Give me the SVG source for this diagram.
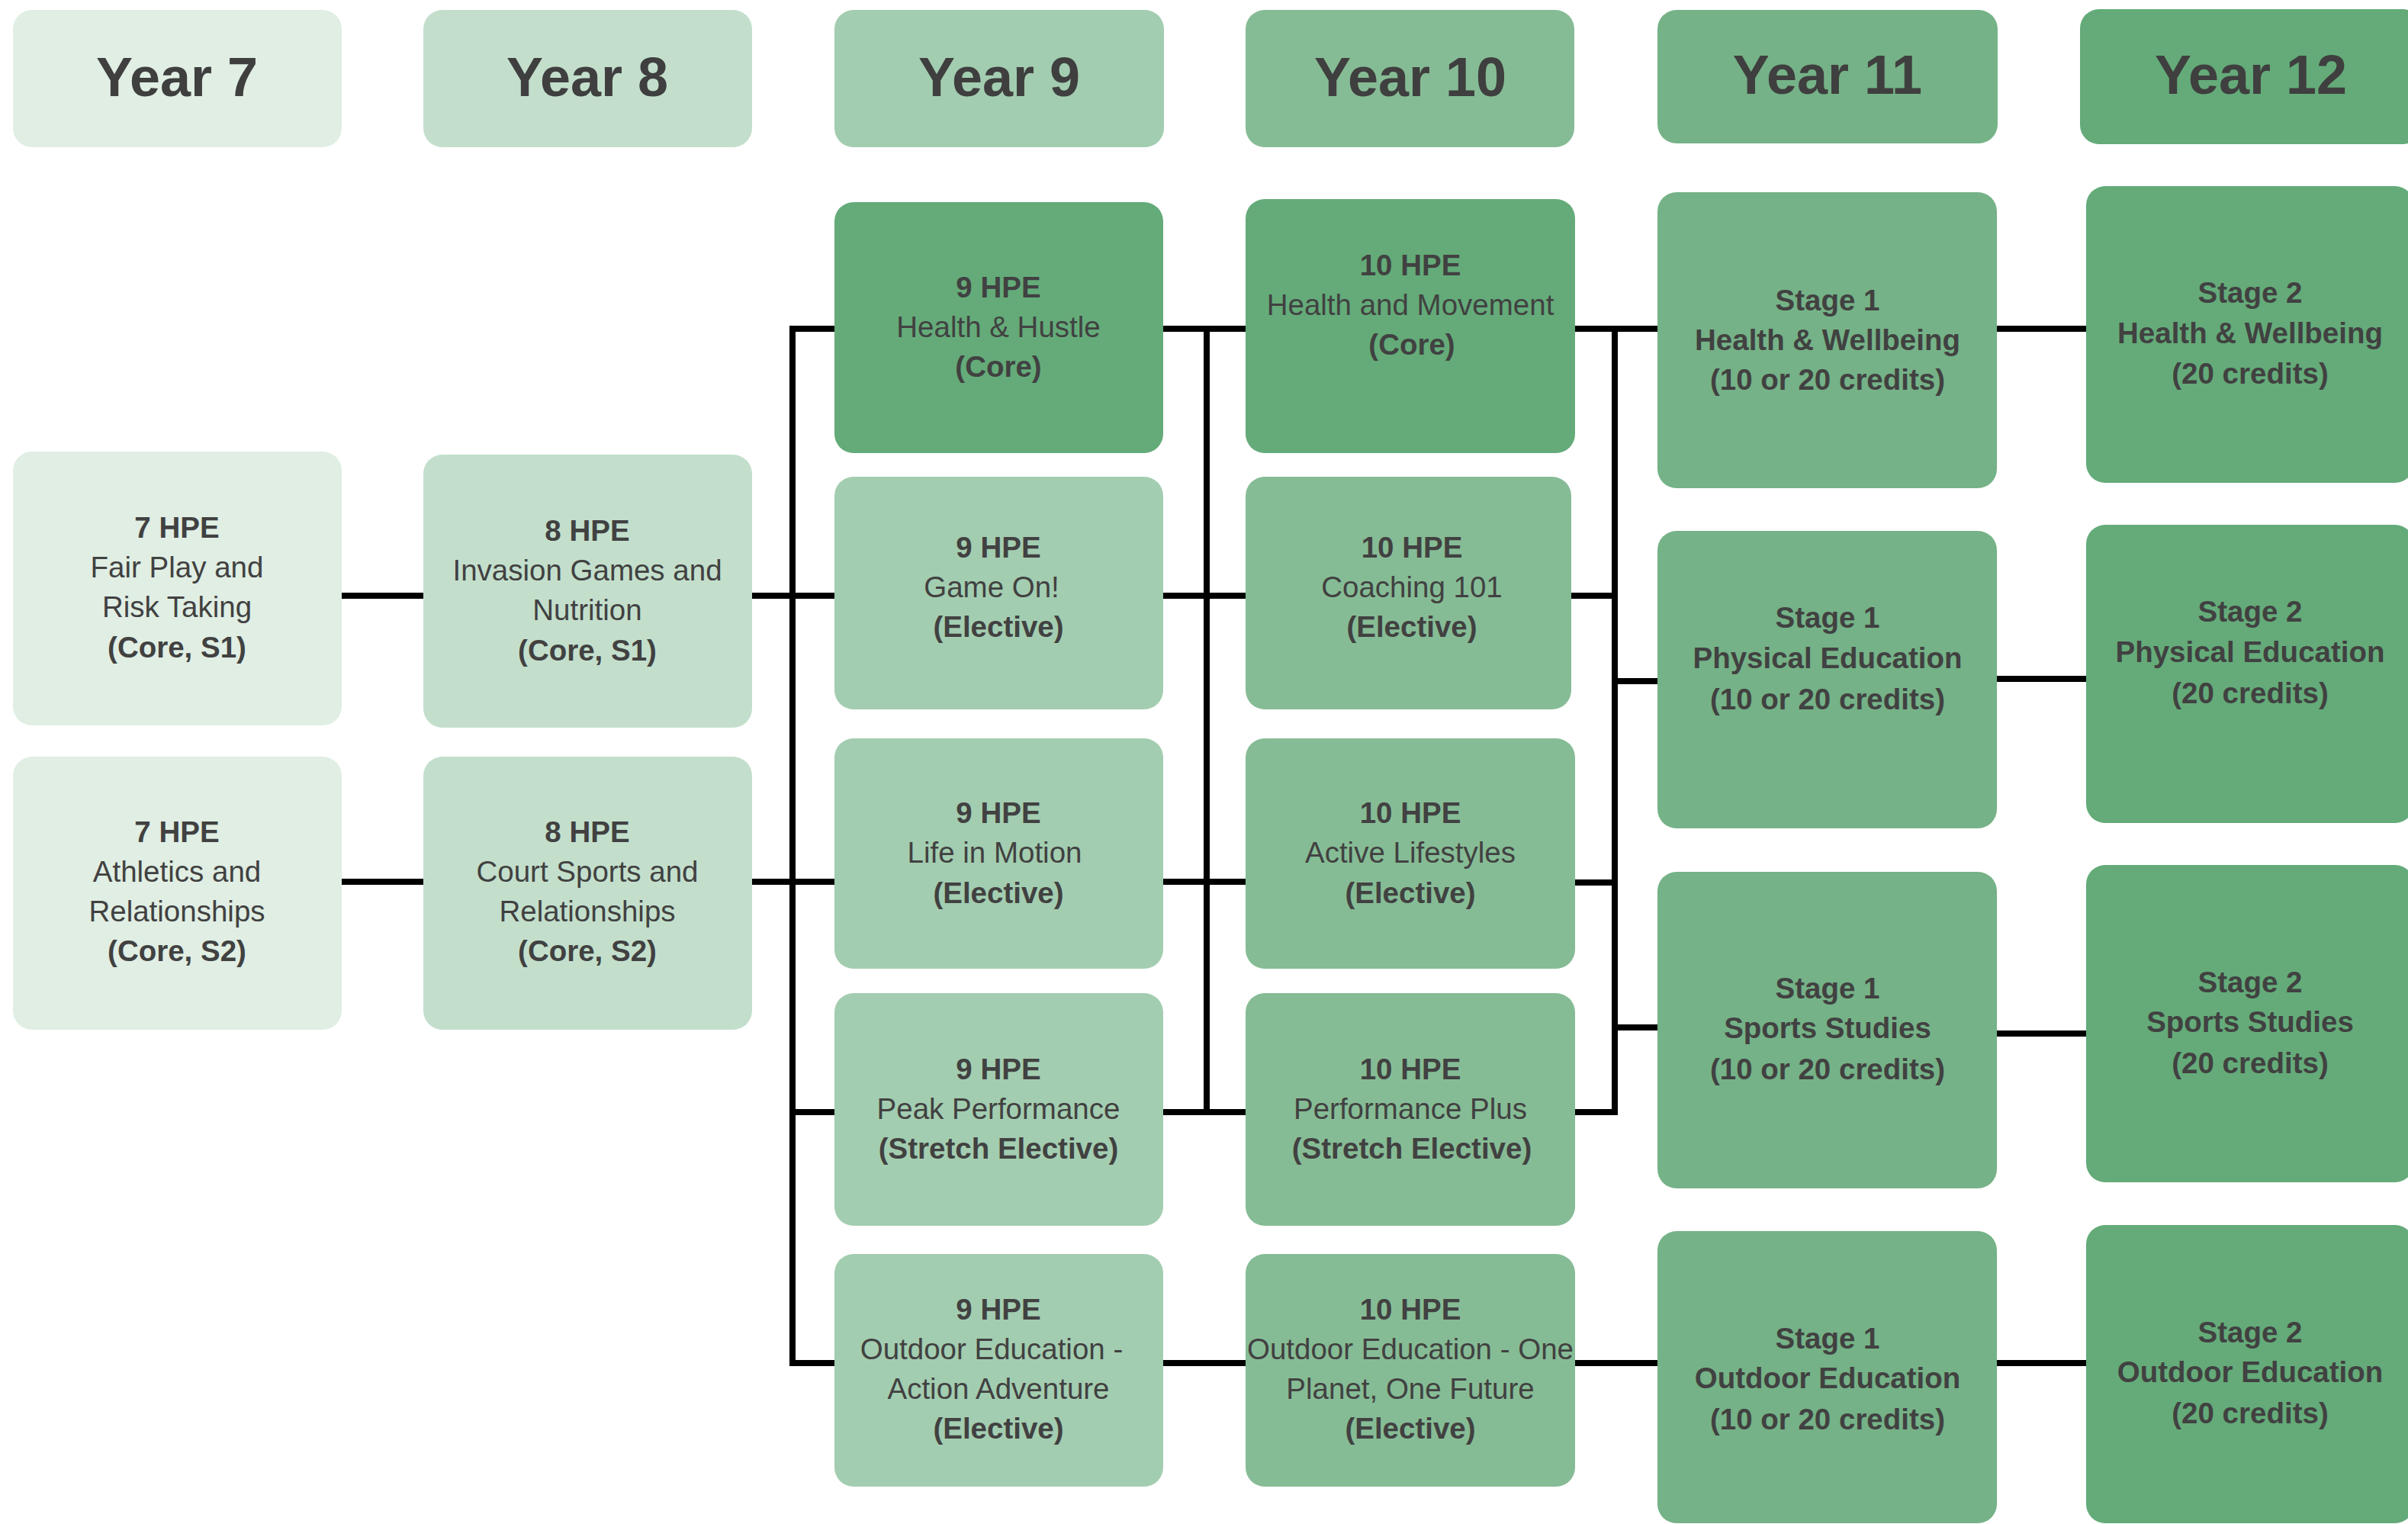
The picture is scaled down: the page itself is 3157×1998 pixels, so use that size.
<svg xmlns="http://www.w3.org/2000/svg" width="3157" height="1998" viewBox="0 0 3157 1998">
<style>
  .hdr { font-family: "Liberation Sans", Arial, sans-serif; font-size: 72px; font-weight: bold; fill: #3f3f3f; text-anchor: middle; }
  .t { font-family: "Liberation Sans", Arial, sans-serif; font-size: 38.5px; fill: #414141; text-anchor: middle; }
  .b { font-weight: bold; }
  .c7 { fill: #e0eee3; }
  .c8 { fill: #c3dfcc; }
  .c9 { fill: #a3cdb0; }
  .c10 { fill: #86bc95; }
  .c11 { fill: #75b287; }
  .c12 { fill: #64ab79; }
  .conn path { fill: none; stroke: #000; stroke-width: 8; stroke-linejoin: miter; stroke-linecap: butt; }
</style>
<rect width="3157" height="1998" fill="#ffffff"/>

<g id="connectors" class="conn">
  <path d="M447 781 H555"/>
  <path d="M447 1156 H555"/>
  <path d="M985 781 H1094"/>
  <path d="M985 1156 H1094"/>
  <path d="M1094 431 H1039 V1787 H1094"/>
  <path d="M1039 1458 H1094"/>
  <path d="M1525 431 H1633"/>
  <path d="M1525 781 H1633"/>
  <path d="M1525 1156 H1633"/>
  <path d="M1525 1458 H1633"/>
  <path d="M1525 1787 H1633"/>
  <path d="M1582 431 V1462"/>
  <path d="M2065 431 H2173"/>
  <path d="M2117 427 V1458 H2065"/>
  <path d="M2060 781 H2117"/>
  <path d="M2117 893 H2173"/>
  <path d="M2065 1157 H2117"/>
  <path d="M2117 1347 H2173"/>
  <path d="M2065 1787 H2173"/>
  <path d="M2618 431 H2735"/>
  <path d="M2618 890 H2735"/>
  <path d="M2618 1355 H2735"/>
  <path d="M2618 1787 H2735"/>
</g>

<g id="year7">
  <rect class="c7" x="17" y="13" width="431" height="180" rx="25"/>
  <text class="hdr" x="232" y="126">Year 7</text>
</g>
<g id="year8">
  <rect class="c8" x="555" y="13" width="431" height="180" rx="25"/>
  <text class="hdr" x="770" y="126">Year 8</text>
</g>
<g id="year9">
  <rect class="c9" x="1094" y="13" width="432" height="180" rx="25"/>
  <text class="hdr" x="1310" y="126">Year 9</text>
</g>
<g id="year10">
  <rect class="c10" x="1633" y="13" width="431" height="180" rx="25"/>
  <text class="hdr" x="1849" y="126">Year 10</text>
</g>
<g id="year11">
  <rect class="c11" x="2173" y="13" width="446" height="175" rx="25"/>
  <text class="hdr" x="2396" y="123">Year 11</text>
</g>
<g id="year12">
  <rect class="c12" x="2727" y="12" width="448" height="177" rx="25"/>
  <text class="hdr" x="2951" y="123">Year 12</text>
</g>

<g id="n7a">
  <rect class="c7" x="17" y="592" width="431" height="359" rx="25"/>
  <text class="t b" x="232" y="705">7 HPE</text>
  <text class="t" x="232" y="757">Fair Play and</text>
  <text class="t" x="232" y="809">Risk Taking</text>
  <text class="t b" x="232" y="862">(Core, S1)</text>
</g>
<g id="n7b">
  <rect class="c7" x="17" y="992" width="431" height="358" rx="25"/>
  <text class="t b" x="232" y="1104">7 HPE</text>
  <text class="t" x="232" y="1156">Athletics and</text>
  <text class="t" x="232" y="1208">Relationships</text>
  <text class="t b" x="232" y="1260">(Core, S2)</text>
</g>
<g id="n8a">
  <rect class="c8" x="555" y="596" width="431" height="358" rx="25"/>
  <text class="t b" x="770" y="709">8 HPE</text>
  <text class="t" x="770" y="761">Invasion Games and</text>
  <text class="t" x="770" y="813">Nutrition</text>
  <text class="t b" x="770" y="866">(Core, S1)</text>
</g>
<g id="n8b">
  <rect class="c8" x="555" y="992" width="431" height="358" rx="25"/>
  <text class="t b" x="770" y="1104">8 HPE</text>
  <text class="t" x="770" y="1156">Court Sports and</text>
  <text class="t" x="770" y="1208">Relationships</text>
  <text class="t b" x="770" y="1260">(Core, S2)</text>
</g>

<g id="n9a">
  <rect class="c12" x="1094" y="265" width="431" height="329" rx="25"/>
  <text class="t b" x="1309" y="390">9 HPE</text>
  <text class="t" x="1309" y="442">Health &amp; Hustle</text>
  <text class="t b" x="1309" y="494">(Core)</text>
</g>
<g id="n9b">
  <rect class="c9" x="1094" y="625" width="431" height="305" rx="25"/>
  <text class="t b" x="1309" y="731">9 HPE</text>
  <text class="t" x="1300" y="783">Game On!</text>
  <text class="t b" x="1309" y="835">(Elective)</text>
</g>
<g id="n9c">
  <rect class="c9" x="1094" y="968" width="431" height="302" rx="25"/>
  <text class="t b" x="1309" y="1079">9 HPE</text>
  <text class="t" x="1304" y="1131">Life in Motion</text>
  <text class="t b" x="1309" y="1184">(Elective)</text>
</g>
<g id="n9d">
  <rect class="c9" x="1094" y="1302" width="431" height="305" rx="25"/>
  <text class="t b" x="1309" y="1415">9 HPE</text>
  <text class="t" x="1309" y="1467">Peak Performance</text>
  <text class="t b" x="1309" y="1519">(Stretch Elective)</text>
</g>
<g id="n9e">
  <rect class="c9" x="1094" y="1644" width="431" height="305" rx="25"/>
  <text class="t b" x="1309" y="1730">9 HPE</text>
  <text class="t" x="1300" y="1782">Outdoor Education -</text>
  <text class="t" x="1309" y="1834">Action Adventure</text>
  <text class="t b" x="1309" y="1886">(Elective)</text>
</g>

<g id="n10a">
  <rect class="c12" x="1633" y="261" width="432" height="333" rx="25"/>
  <text class="t b" x="1849" y="361">10 HPE</text>
  <text class="t" x="1849" y="413">Health and Movement</text>
  <text class="t b" x="1851" y="465">(Core)</text>
</g>
<g id="n10b">
  <rect class="c10" x="1633" y="625" width="427" height="305" rx="25"/>
  <text class="t b" x="1851" y="731">10 HPE</text>
  <text class="t" x="1851" y="783">Coaching 101</text>
  <text class="t b" x="1851" y="835">(Elective)</text>
</g>
<g id="n10c">
  <rect class="c10" x="1633" y="968" width="432" height="302" rx="25"/>
  <text class="t b" x="1849" y="1079">10 HPE</text>
  <text class="t" x="1849" y="1131">Active Lifestyles</text>
  <text class="t b" x="1849" y="1184">(Elective)</text>
</g>
<g id="n10d">
  <rect class="c10" x="1633" y="1302" width="432" height="305" rx="25"/>
  <text class="t b" x="1849" y="1415">10 HPE</text>
  <text class="t" x="1849" y="1467">Performance Plus</text>
  <text class="t b" x="1851" y="1519">(Stretch Elective)</text>
</g>
<g id="n10e">
  <rect class="c10" x="1633" y="1644" width="432" height="305" rx="25"/>
  <text class="t b" x="1849" y="1730">10 HPE</text>
  <text class="t" x="1849" y="1782">Outdoor Education - One</text>
  <text class="t" x="1849" y="1834">Planet, One Future</text>
  <text class="t b" x="1849" y="1886">(Elective)</text>
</g>

<g id="s1a">
  <rect class="c11" x="2173" y="252" width="445" height="388" rx="25"/>
  <text class="t b" x="2396" y="407">Stage 1</text>
  <text class="t b" x="2396" y="459">Health &amp; Wellbeing</text>
  <text class="t b" x="2396" y="511">(10 or 20 credits)</text>
</g>
<g id="s1b">
  <rect class="c11" x="2173" y="696" width="445" height="390" rx="25"/>
  <text class="t b" x="2396" y="823">Stage 1</text>
  <text class="t b" x="2396" y="876">Physical Education</text>
  <text class="t b" x="2396" y="930">(10 or 20 credits)</text>
</g>
<g id="s1c">
  <rect class="c11" x="2173" y="1143" width="445" height="415" rx="25"/>
  <text class="t b" x="2396" y="1309">Stage 1</text>
  <text class="t b" x="2396" y="1361">Sports Studies</text>
  <text class="t b" x="2396" y="1415">(10 or 20 credits)</text>
</g>
<g id="s1d">
  <rect class="c11" x="2173" y="1614" width="445" height="383" rx="25"/>
  <text class="t b" x="2396" y="1768">Stage 1</text>
  <text class="t b" x="2396" y="1820">Outdoor Education</text>
  <text class="t b" x="2396" y="1874">(10 or 20 credits)</text>
</g>

<g id="s2a">
  <rect class="c12" x="2735" y="244" width="430" height="389" rx="25"/>
  <text class="t b" x="2950" y="397">Stage 2</text>
  <text class="t b" x="2950" y="450">Health &amp; Wellbeing</text>
  <text class="t b" x="2950" y="503">(20 credits)</text>
</g>
<g id="s2b">
  <rect class="c12" x="2735" y="688" width="430" height="391" rx="25"/>
  <text class="t b" x="2950" y="815">Stage 2</text>
  <text class="t b" x="2950" y="868">Physical Education</text>
  <text class="t b" x="2950" y="922">(20 credits)</text>
</g>
<g id="s2c">
  <rect class="c12" x="2735" y="1134" width="430" height="416" rx="25"/>
  <text class="t b" x="2950" y="1301">Stage 2</text>
  <text class="t b" x="2950" y="1353">Sports Studies</text>
  <text class="t b" x="2950" y="1407">(20 credits)</text>
</g>
<g id="s2d">
  <rect class="c12" x="2735" y="1606" width="430" height="391" rx="25"/>
  <text class="t b" x="2950" y="1760">Stage 2</text>
  <text class="t b" x="2950" y="1812">Outdoor Education</text>
  <text class="t b" x="2950" y="1866">(20 credits)</text>
</g>
</svg>
